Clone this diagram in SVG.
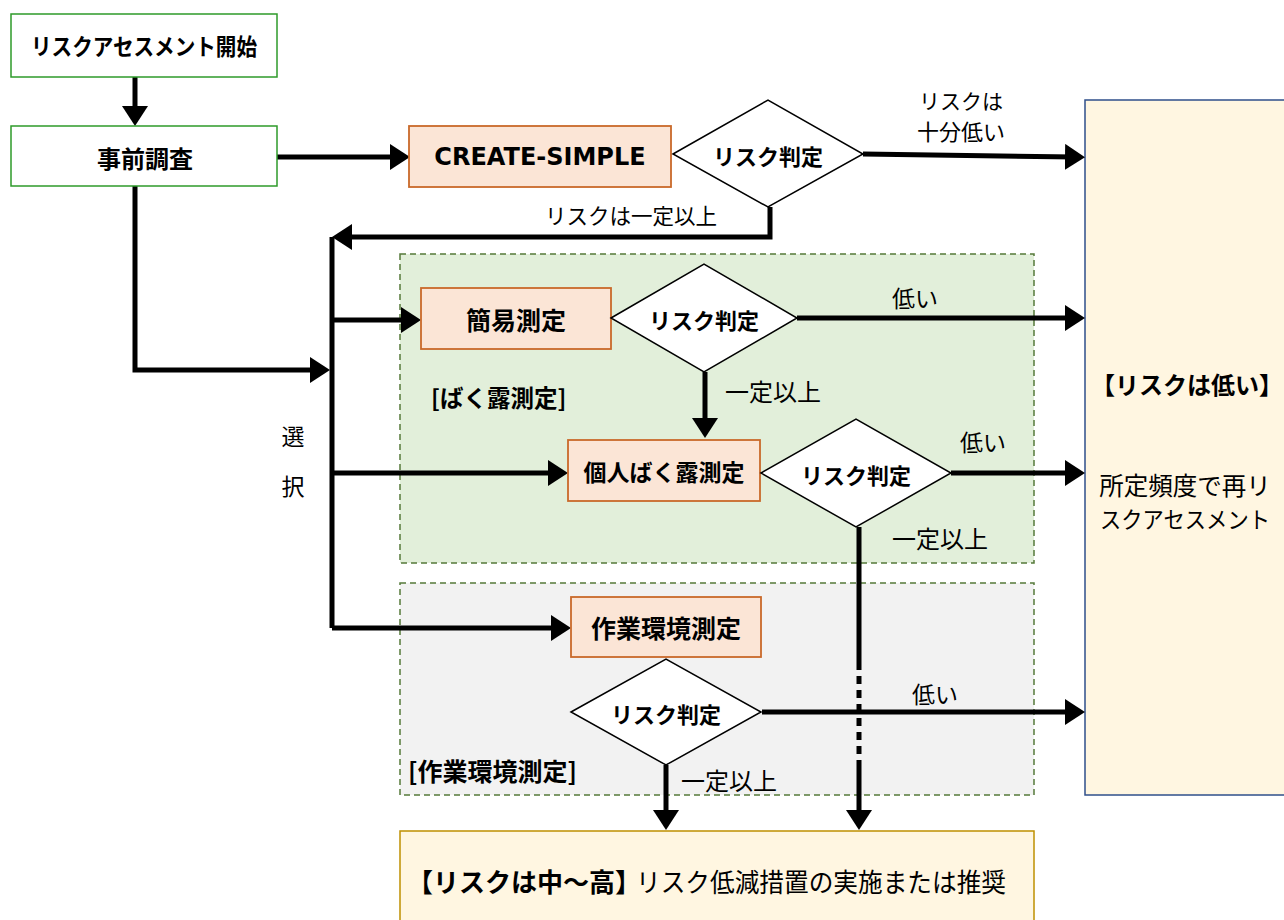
<svg xmlns="http://www.w3.org/2000/svg" width="1284" height="920" viewBox="0 0 1284 920">
<defs>
<style>
.t{font-family:"Noto Sans CJK JP","Noto Sans",sans-serif;fill:#000;dominant-baseline:central;text-anchor:middle}
.b{font-weight:bold}
.start{fill:#fff;stroke:#2e9a2a;stroke-width:1.5}
.proc{fill:#fbe5d6;stroke:#c9692a;stroke-width:1.8}
.dia{fill:#fff;stroke:#000;stroke-width:1.5}
.grp{stroke:#557a3a;stroke-width:1.5;stroke-dasharray:6,4}
.res{fill:#fff6e1}
.c{fill:none;stroke:#000;stroke-width:5}
</style>
<marker id="ah" viewBox="0 0 20 26" refX="10" refY="13" markerWidth="20" markerHeight="26" markerUnits="userSpaceOnUse" orient="auto">
<path d="M0,0 L20,13 L0,26 z" fill="#000"/>
</marker>
</defs>
<rect width="1284" height="920" fill="#fff"/>

<g id="group-exposure"><rect class="grp" x="400" y="254" width="634" height="309" fill="#e2efda"/>
<text class="t b" x="431" y="397" font-size="23.5" style="text-anchor:start">[ばく露測定]</text></g>
<g id="group-workenv"><rect class="grp" x="400" y="583" width="634" height="212" fill="#f2f2f2"/>
<text class="t b" x="408" y="770" font-size="25" style="text-anchor:start">[作業環境測定]</text></g>

<g id="result-low"><rect class="res" x="1085" y="100" width="210" height="695" stroke="#2f4f8a" stroke-width="1.5"/>
<text class="t b" x="1187" y="383" font-size="24">【リスクは低い】</text>
<text class="t" x="1185" y="484" font-size="24.5">所定頻度で再リ</text>
<text class="t" x="1185" y="518" font-size="23" textLength="170" lengthAdjust="spacingAndGlyphs">スクアセスメント</text></g>

<g id="result-high"><rect class="res" x="400" y="831" width="634" height="100" stroke="#bf9000" stroke-width="1.5"/>
<text class="t b" x="407" y="880" font-size="26" style="text-anchor:start">【リスクは中～高】</text>
<text class="t" x="636" y="880" font-size="26" textLength="370" lengthAdjust="spacingAndGlyphs" style="text-anchor:start">リスク低減措置の実施または推奨</text></g>

<g id="connectors">
<path class="c" d="M135,77 V116" marker-end="url(#ah)"/>
<path class="c" d="M277,157 H400" marker-end="url(#ah)"/>
<path class="c" d="M863,154 L1075,157" marker-end="url(#ah)"/>
<path class="c" d="M770,207 V237 H342" marker-end="url(#ah)"/>
<path class="c" d="M135,186 V370 H320" marker-end="url(#ah)"/>
<path class="c" d="M332,237 V628"/>
<path class="c" d="M332,320 H411" marker-end="url(#ah)"/>
<path class="c" d="M332,473 H558" marker-end="url(#ah)"/>
<path class="c" d="M332,628 H561" marker-end="url(#ah)"/>
<path class="c" d="M797,318 H1075" marker-end="url(#ah)"/>
<path class="c" d="M705,372 V428" marker-end="url(#ah)"/>
<path class="c" d="M951,473 H1075" marker-end="url(#ah)"/>
<path class="c" d="M859,527 V662"/>
<path class="c" d="M859,662 V768" stroke-dasharray="8,6"/>
<path class="c" d="M859,768 V820" marker-end="url(#ah)"/>
<path class="c" d="M762,712 H1075" marker-end="url(#ah)"/>
<path class="c" d="M666,765 V820" marker-end="url(#ah)"/>
<text class="t" x="961" y="100" font-size="21">リスクは</text>
<text class="t" x="961" y="130" font-size="22">十分低い</text>
<text class="t" x="631" y="214" font-size="21.5">リスクは一定以上</text>
<text class="t" x="915" y="297" font-size="23">低い</text>
<text class="t" x="773" y="390" font-size="24">一定以上</text>
<text class="t" x="983" y="441" font-size="23">低い</text>
<text class="t" x="940" y="537" font-size="24">一定以上</text>
<text class="t" x="935" y="693" font-size="23">低い</text>
<text class="t" x="729" y="779" font-size="24">一定以上</text>
<text class="t" x="293" y="435" font-size="23">選</text>
<text class="t" x="293" y="485" font-size="23">択</text>
</g>

<g id="start"><rect class="start" x="11" y="14" width="266" height="63"/>
<text class="t b" x="144" y="45" font-size="23" textLength="226" lengthAdjust="spacingAndGlyphs">リスクアセスメント開始</text></g>
<g id="prelim"><rect class="start" x="11" y="126" width="266" height="60"/>
<text class="t b" x="145" y="157" font-size="24">事前調査</text></g>
<g id="create-simple"><rect class="proc" x="409" y="126" width="262" height="61"/>
<text class="t b" x="540" y="157" font-size="24" style="font-family:'DejaVu Sans',sans-serif">CREATE-SIMPLE</text></g>
<g id="judge1"><polygon class="dia" points="673,154 768,100 863,154 768,207"/>
<text class="t b" x="768" y="155" font-size="22">リスク判定</text></g>
<g id="simple"><rect class="proc" x="421" y="288" width="190" height="61"/>
<text class="t b" x="516" y="319" font-size="25">簡易測定</text></g>
<g id="judge2"><polygon class="dia" points="611,318 704,264 797,318 704,372"/>
<text class="t b" x="704" y="319" font-size="22">リスク判定</text></g>
<g id="personal"><rect class="proc" x="568" y="440" width="192" height="61"/>
<text class="t b" x="664" y="471" font-size="23">個人ばく露測定</text></g>
<g id="judge3"><polygon class="dia" points="761,473 856,419 951,473 856,527"/>
<text class="t b" x="856" y="474" font-size="22">リスク判定</text></g>
<g id="workenv"><rect class="proc" x="571" y="597" width="190" height="60"/>
<text class="t b" x="666" y="627" font-size="25">作業環境測定</text></g>
<g id="judge4"><polygon class="dia" points="571,712 666,659 761,712 666,765"/>
<text class="t b" x="666" y="713" font-size="22">リスク判定</text></g>
</svg>
